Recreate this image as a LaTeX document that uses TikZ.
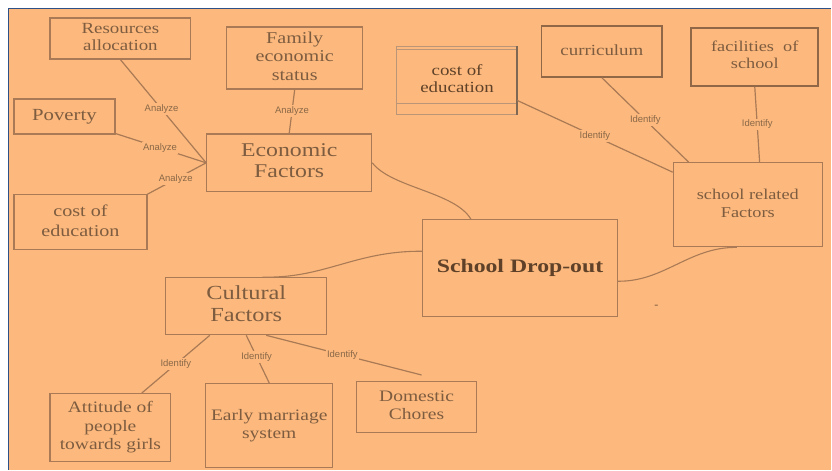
\documentclass[tikz,border=0pt]{standalone}
\usepackage{fontspec}
\setmainfont{Liberation Serif}
\newfontfamily\labelfont{Liberation Sans}
\usepackage{graphicx}
\usetikzlibrary{calc}

\definecolor{sheet}{HTML}{FDB97D}
\definecolor{edgebrown}{HTML}{A97A55}
\definecolor{inkbrown}{HTML}{7D5C40}
\definecolor{darkbrown}{HTML}{5E4128}
\definecolor{tagbrown}{HTML}{8A6848}
\definecolor{frameblue}{HTML}{2E5287}

% widened serif text block: size, line spacing, lines
\newcommand\boxtext[3]{\scalebox{1.22}[1]{\rmfamily\fontsize{#1}{#2}\selectfont\begin{tabular}{@{}c@{}}#3\end{tabular}}}

\tikzset{
  concept/.style={draw=edgebrown, line width=1.3pt, text=inkbrown, inner sep=0pt, anchor=center},
  link/.style={draw=edgebrown, line width=1.2pt},
  tag/.style={fill=sheet, text=tagbrown, inner sep=1.5pt, font=\labelfont\fontsize{9.5}{10}\selectfont},
}

\begin{document}
\begin{tikzpicture}[x=1pt, y=-1pt]
% page and frame
\fill[white] (0,0) rectangle (832,470);
\fill[sheet] (8.5,8.5) rectangle (832,470);
\draw[frameblue, line width=1.6pt] (8.5,470) -- (8.5,8.5) -- (832,8.5);
\useasboundingbox (0,0) rectangle (832,470);

% economic branch
\node[concept, minimum width=141pt, minimum height=41pt] (res) at (120.5,38.5) {\boxtext{15.5}{17}{Resources\\allocation}};
\node[concept, minimum width=136pt, minimum height=62pt] (fam) at (295,58) {\boxtext{16.5}{18.5}{Family\\economic\\status}};
\node[concept, minimum width=101pt, minimum height=35pt] (pov) at (64.5,116.5) {\boxtext{17}{19}{Poverty}};
\node[concept, minimum width=133pt, minimum height=55pt] (costL) at (80.5,222.5) {\boxtext{16.5}{20}{cost of\\education}};
\node[concept, minimum width=165pt, minimum height=58pt] (eco) at (289.5,163) {\boxtext{19.5}{21}{Economic\\Factors}};

% school related branch
\node[concept, draw=none, minimum width=119pt, minimum height=67pt, text=darkbrown] (costT) at (457.5,80.5) {\boxtext{15.5}{17}{cost of\\education}};
\draw[edgebrown!80, line width=1pt] (costT.south east) -- (costT.south west) -- (costT.north west) -- (costT.north east);
\draw[edgebrown!80, line width=1pt] ([yshift=-3.5pt]costT.north west) -- ([yshift=-3.5pt]costT.north east);
\draw[edgebrown!80, line width=1pt] ([yshift=11pt]costT.south west) -- ([yshift=11pt]costT.south east);
\draw[darkbrown!80, line width=2pt] (costT.north east) -- (costT.south east);
\node[concept, line width=1.8pt, draw=edgebrown!85!black, minimum width=121pt, minimum height=51pt] (cur) at (602.5,51.5) {\boxtext{15.5}{18}{curriculum}};
\node[concept, line width=1.8pt, draw=edgebrown!85!black, minimum width=127pt, minimum height=58pt] (fac) at (755.5,57) {\boxtext{15}{17}{facilities~ of\\school}};
\node[concept, minimum width=149pt, minimum height=84pt] (srf) at (748.5,205) {\boxtext{15}{18}{school related\\Factors}};

% centre
\node[concept, minimum width=195pt, minimum height=97pt, text=darkbrown] (sd) at (520.5,268.5) {\scalebox{1.25}[1]{\fontsize{19}{21}\selectfont\bfseries School Drop-out}};

% cultural branch
\node[concept, minimum width=161pt, minimum height=57pt] (cul) at (246.5,306.5) {\boxtext{20}{22}{Cultural\\Factors}};
\node[concept, minimum width=121pt, minimum height=68pt] (att) at (110.5,428) {\boxtext{16}{18.5}{Attitude of\\people\\towards girls}};
\node[concept, minimum width=127pt, minimum height=84pt] (early) at (269.5,426) {\boxtext{16}{18}{Early marriage\\system}};
\node[concept, minimum width=120pt, minimum height=51pt] (dom) at (417,407.5) {\boxtext{16}{18}{Domestic\\Chores}};

\node[text=inkbrown, inner sep=0pt, font=\fontsize{12}{12}\selectfont] (tick) at (657,307) {-};

% connectors into Economic Factors
\draw[link] (res.south) -- node[tag, pos=0.48] {Analyze} (eco.west);
\draw[link] ([yshift=1pt]pov.south east) -- node[tag, pos=0.49] {Analyze} (eco.west);
\draw[link] (costL.north east) -- node[tag, pos=0.48] {Analyze} (eco.west);
\draw[link] (fam.south) -- node[tag, pos=0.5] {Analyze} (eco.north);

% connectors into school related Factors
\draw[link] ([yshift=-20pt]costT.east) -- node[tag, pos=0.5] {Identify} ([yshift=-10pt]srf.north west);
\draw[link] (cur.south) -- node[tag, pos=0.5] {Identify} ([xshift=16pt]srf.north west);
\draw[link] (fac.south) -- node[tag, pos=0.5] {Identify} ([xshift=87pt]srf.north west);

% connectors out of Cultural Factors
\draw[link] ([xshift=-36.5pt]cul.south) -- node[tag, pos=0.5] {Identify} ([xshift=31.5pt]att.north);
\draw[link] (cul.south) -- node[tag, pos=0.45] {Identify} (early.north);
\draw[link] ([xshift=20pt]cul.south) -- node[tag, pos=0.49] {Identify} ([xshift=5pt,yshift=6pt]dom.north);

% curved ties to the centre
\draw[link, line width=1.1pt] (eco.east) .. controls (392,188) and (455,192) .. ([xshift=49pt]sd.north west);
\draw[link, line width=1.1pt] ([xshift=16pt]cul.north) .. controls (325,279) and (355,251) .. ([yshift=17pt]sd.west);
\draw[link, line width=1.1pt] ([yshift=-13pt]sd.east) .. controls (665,282) and (690,247) .. ([xshift=-11pt]srf.south);
\end{tikzpicture}
\end{document}
